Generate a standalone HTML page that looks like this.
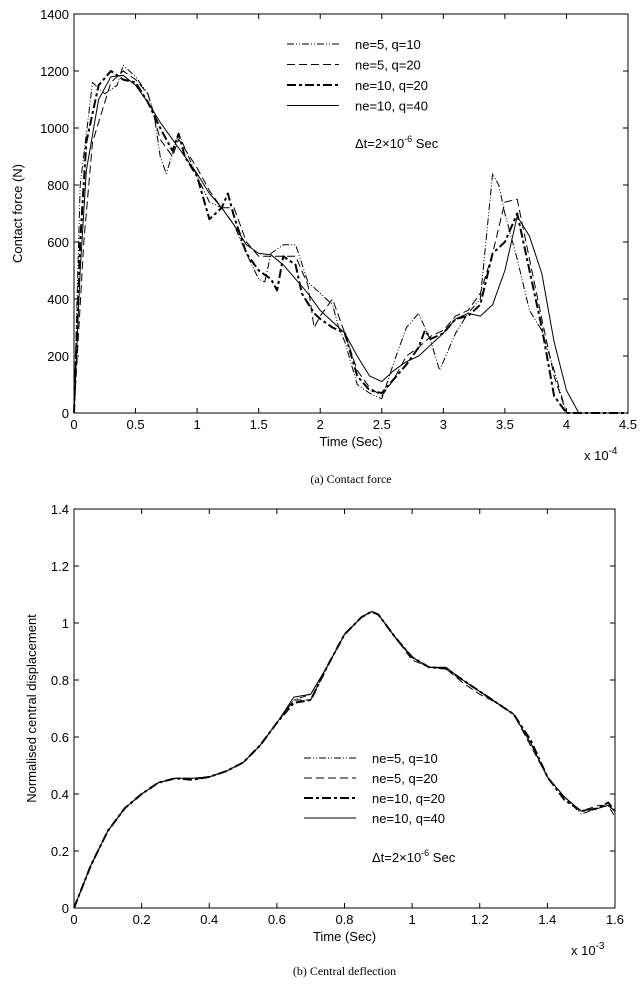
<!DOCTYPE html>
<html><head><meta charset="utf-8"><style>
body{margin:0;background:#fff}
svg{display:block}
text{font-family:"Liberation Sans",Arial,sans-serif;font-size:13px;fill:#000}
.cap{font-family:"Liberation Serif",serif;font-size:12px}
</style></head><body>
<svg id="s" width="641" height="985"></svg>
<script>
// ---- Chart A data (time x1e-4 s, force N)
const aT1=[0,0.05,0.15,0.25,0.35,0.4,0.5,0.6,0.65,0.7,0.75,0.85,0.9,1.0,1.1,1.2,1.3,1.4,1.5,1.55,1.6,1.7,1.8,1.9,2.0,2.1,2.15,2.2,2.3,2.4,2.5,2.6,2.7,2.8,2.9,2.97,3.1,3.2,3.3,3.4,3.45,3.5,3.6,3.7,3.8,3.9,4.0,4.5];
const aF1=[0,800,1160,1120,1150,1220,1180,1120,1050,900,840,980,930,830,740,720,660,560,470,460,560,590,590,460,420,380,300,250,100,70,50,180,300,350,250,150,280,350,400,840,800,700,540,360,290,150,0,0];
const aT2=[0,0.08,0.15,0.3,0.4,0.5,0.6,0.7,0.8,0.85,1.0,1.1,1.2,1.3,1.4,1.5,1.6,1.7,1.8,1.9,1.95,2.0,2.1,2.2,2.3,2.4,2.5,2.6,2.7,2.8,2.9,3.0,3.1,3.2,3.3,3.4,3.5,3.6,3.7,3.8,3.9,4.0,4.5];
const aF2=[0,600,950,1160,1200,1170,1120,960,900,960,860,780,720,720,600,550,550,550,550,450,300,340,400,280,150,90,60,120,200,230,270,290,340,360,420,560,740,750,540,330,130,0,0];
const aT3=[0,0.05,0.1,0.2,0.3,0.4,0.5,0.6,0.7,0.8,0.85,0.9,1.0,1.1,1.2,1.25,1.3,1.4,1.5,1.6,1.65,1.7,1.8,1.85,1.95,2.0,2.1,2.2,2.3,2.4,2.5,2.6,2.7,2.8,2.85,2.9,3.0,3.1,3.2,3.3,3.4,3.5,3.6,3.7,3.8,3.9,4.0,4.5];
const aF3=[0,600,950,1150,1200,1170,1160,1090,1000,920,980,900,830,680,720,770,690,560,500,470,430,550,520,420,350,330,300,280,130,80,70,120,170,230,290,260,280,330,340,380,560,600,700,500,300,60,0,0];
const aT4=[0,0.05,0.1,0.2,0.3,0.4,0.5,0.6,0.7,0.8,0.9,1.0,1.1,1.2,1.3,1.4,1.5,1.6,1.7,1.8,1.9,2.0,2.1,2.2,2.3,2.4,2.5,2.6,2.7,2.8,2.9,3.0,3.1,3.2,3.3,3.4,3.5,3.6,3.7,3.8,3.9,4.0,4.1,4.5];
const aF4=[0,500,850,1100,1180,1185,1150,1090,1020,960,900,840,770,720,660,590,560,555,520,470,420,360,320,280,200,130,110,150,180,200,240,280,330,350,340,380,500,690,620,490,250,80,0,0];
const aXTicks=[0,0.5,1,1.5,2,2.5,3,3.5,4,4.5];
const aYTicks=[0,200,400,600,800,1000,1200,1400];
// ---- Chart B data (time x1e-3 s, normalised displacement)
const bT=[0,0.05,0.1,0.15,0.2,0.25,0.3,0.35,0.4,0.45,0.5,0.55,0.6,0.65,0.7,0.75,0.8,0.85,0.88,0.9,0.95,1.0,1.05,1.1,1.15,1.2,1.25,1.3,1.35,1.4,1.45,1.5,1.55,1.58,1.6];
const bD1=[0,0.15,0.27,0.35,0.40,0.44,0.455,0.455,0.46,0.48,0.51,0.57,0.65,0.73,0.75,0.85,0.96,1.02,1.04,1.03,0.95,0.88,0.845,0.84,0.80,0.76,0.72,0.68,0.58,0.46,0.39,0.33,0.35,0.36,0.32];
const bD2=[0,0.15,0.27,0.35,0.40,0.44,0.455,0.45,0.46,0.48,0.51,0.57,0.65,0.73,0.73,0.85,0.96,1.02,1.04,1.03,0.95,0.87,0.845,0.84,0.79,0.75,0.72,0.68,0.57,0.46,0.39,0.34,0.36,0.36,0.34];
const bD3=[0,0.15,0.27,0.35,0.40,0.44,0.455,0.45,0.46,0.48,0.51,0.57,0.65,0.72,0.73,0.85,0.96,1.02,1.04,1.03,0.95,0.88,0.845,0.84,0.80,0.76,0.72,0.68,0.59,0.46,0.38,0.34,0.35,0.37,0.34];
const bD4=[0,0.15,0.27,0.35,0.40,0.44,0.455,0.455,0.46,0.48,0.51,0.57,0.65,0.74,0.75,0.85,0.96,1.02,1.04,1.03,0.95,0.88,0.845,0.845,0.80,0.76,0.72,0.68,0.58,0.46,0.39,0.34,0.35,0.36,0.34];
const bXTicks=[0,0.2,0.4,0.6,0.8,1,1.2,1.4,1.6];
const bYTicks=[0,0.2,0.4,0.6,0.8,1,1.2,1.4];

const NS="http://www.w3.org/2000/svg";
const svg=document.getElementById('s');
function mk(tag,attrs,parent){const e=document.createElementNS(NS,tag);for(const k in attrs)e.setAttribute(k,attrs[k]);(parent||svg).appendChild(e);return e;}
function txt(x,y,s,anchor,parent,cls){const t=mk('text',{x:x,y:y,'text-anchor':anchor||'start'},parent);if(cls)t.setAttribute('class',cls);t.textContent=s;return t;}
const styles=[
 {dash:'7,2,1,2,1,2',w:1},
 {dash:'8,4',w:1},
 {dash:'9,3,3,3',w:2},
 {dash:'',w:1}];
function chart(o){
 const g=mk('g',{});
 
 
 const X=v=>o.x0+(v-o.xmin)/(o.xmax-o.xmin)*(o.x1-o.x0);
 const Y=v=>o.y0-(v-o.ymin)/(o.ymax-o.ymin)*(o.y0-o.y1);
 const box=mk('rect',{x:o.x0,y:o.y1,width:o.x1-o.x0,height:o.y0-o.y1,fill:'none',stroke:'#000','stroke-width':1},g);
 
 
 o.xt.forEach(v=>{const x=X(v);mk('line',{x1:x,x2:x,y1:o.y0,y2:o.y0-5,stroke:'#000'},g);mk('line',{x1:x,x2:x,y1:o.y1,y2:o.y1+5,stroke:'#000'},g);
  const t=txt(x,o.y0+16,String(v),'middle',g);});
 o.yt.forEach(v=>{const y=Y(v);mk('line',{x1:o.x0,x2:o.x0+5,y1:y,y2:y,stroke:'#000'},g);mk('line',{x1:o.x1,x2:o.x1-5,y1:y,y2:y,stroke:'#000'},g);
  const t=txt(o.x0-5,y+5,String(v),'end',g);});
 const xl=txt((o.x0+o.x1)/2,o.y0+33,'Time  (Sec)','middle',g);
 const ex=mk('text',{x:o.x1-44,y:o.y0+47},g);
 ex.innerHTML='x 10<tspan dy="-6" font-size="10">'+o.exp+'</tspan>';
 const yl=mk('text',{transform:`translate(${o.ylx},${(o.y0+o.y1)/2}) rotate(-90)`,'text-anchor':'middle'},g);yl.textContent=o.ylabel;
 
 o.series.forEach((s,i)=>{const pts=s.t.map((t,j)=>X(t).toFixed(1)+','+Y(s.v[j]).toFixed(1)).join(' ');
  const p=mk('polyline',{points:pts,fill:'none',stroke:'#000','stroke-width':styles[i].w,'stroke-dasharray':styles[i].dash,'stroke-linejoin':'round'},g);
  
  const ly=o.legY+i*o.legDy;
  const ll=mk('line',{x1:o.legX,x2:o.legX+52,y1:ly,y2:ly,stroke:'#000','stroke-width':styles[i].w,'stroke-dasharray':styles[i].dash},g);
  
  const lt=txt(o.legX+68,ly+5,s.label,'start',g);});
 const dt=mk('text',{x:o.legX+68,y:o.dtY},g);
 dt.innerHTML='Δt=2×10<tspan dy="-6" font-size="9">-6</tspan><tspan dy="6"> Sec</tspan>';
 const c=txt((o.x0+o.x1)/2,o.capY,o.cap,'middle',g,'cap');
}
const labels=['ne=5, q=10','ne=5, q=20','ne=10, q=20','ne=10, q=40'];
chart({name:'contact-force-chart',x0:74,x1:628,y0:413,y1:14,xmin:0,xmax:4.5,ymin:0,ymax:1400,xt:aXTicks,yt:aYTicks,exp:'-4',ylx:22,ylabel:'Contact force (N)',
 series:[{t:aT1,v:aF1,key:'ne5-q10',label:labels[0]},{t:aT2,v:aF2,key:'ne5-q20',label:labels[1]},{t:aT3,v:aF3,key:'ne10-q20',label:labels[2]},{t:aT4,v:aF4,key:'ne10-q40',label:labels[3]}],
 legX:287,legY:44,legDy:20.5,dtY:148,cap:'(a) Contact force',capY:483});
chart({name:'central-deflection-chart',x0:74,x1:615,y0:908,y1:509,xmin:0,xmax:1.6,ymin:0,ymax:1.4,xt:bXTicks,yt:bYTicks,exp:'-3',ylx:36,ylabel:'Normalised central displacement',
 series:[{t:bT,v:bD1,key:'ne5-q10',label:labels[0]},{t:bT,v:bD2,key:'ne5-q20',label:labels[1]},{t:bT,v:bD3,key:'ne10-q20',label:labels[2]},{t:bT,v:bD4,key:'ne10-q40',label:labels[3]}],
 legX:304,legY:758,legDy:20,dtY:862,cap:'(b) Central deflection',capY:975});
</script>
</body></html>
